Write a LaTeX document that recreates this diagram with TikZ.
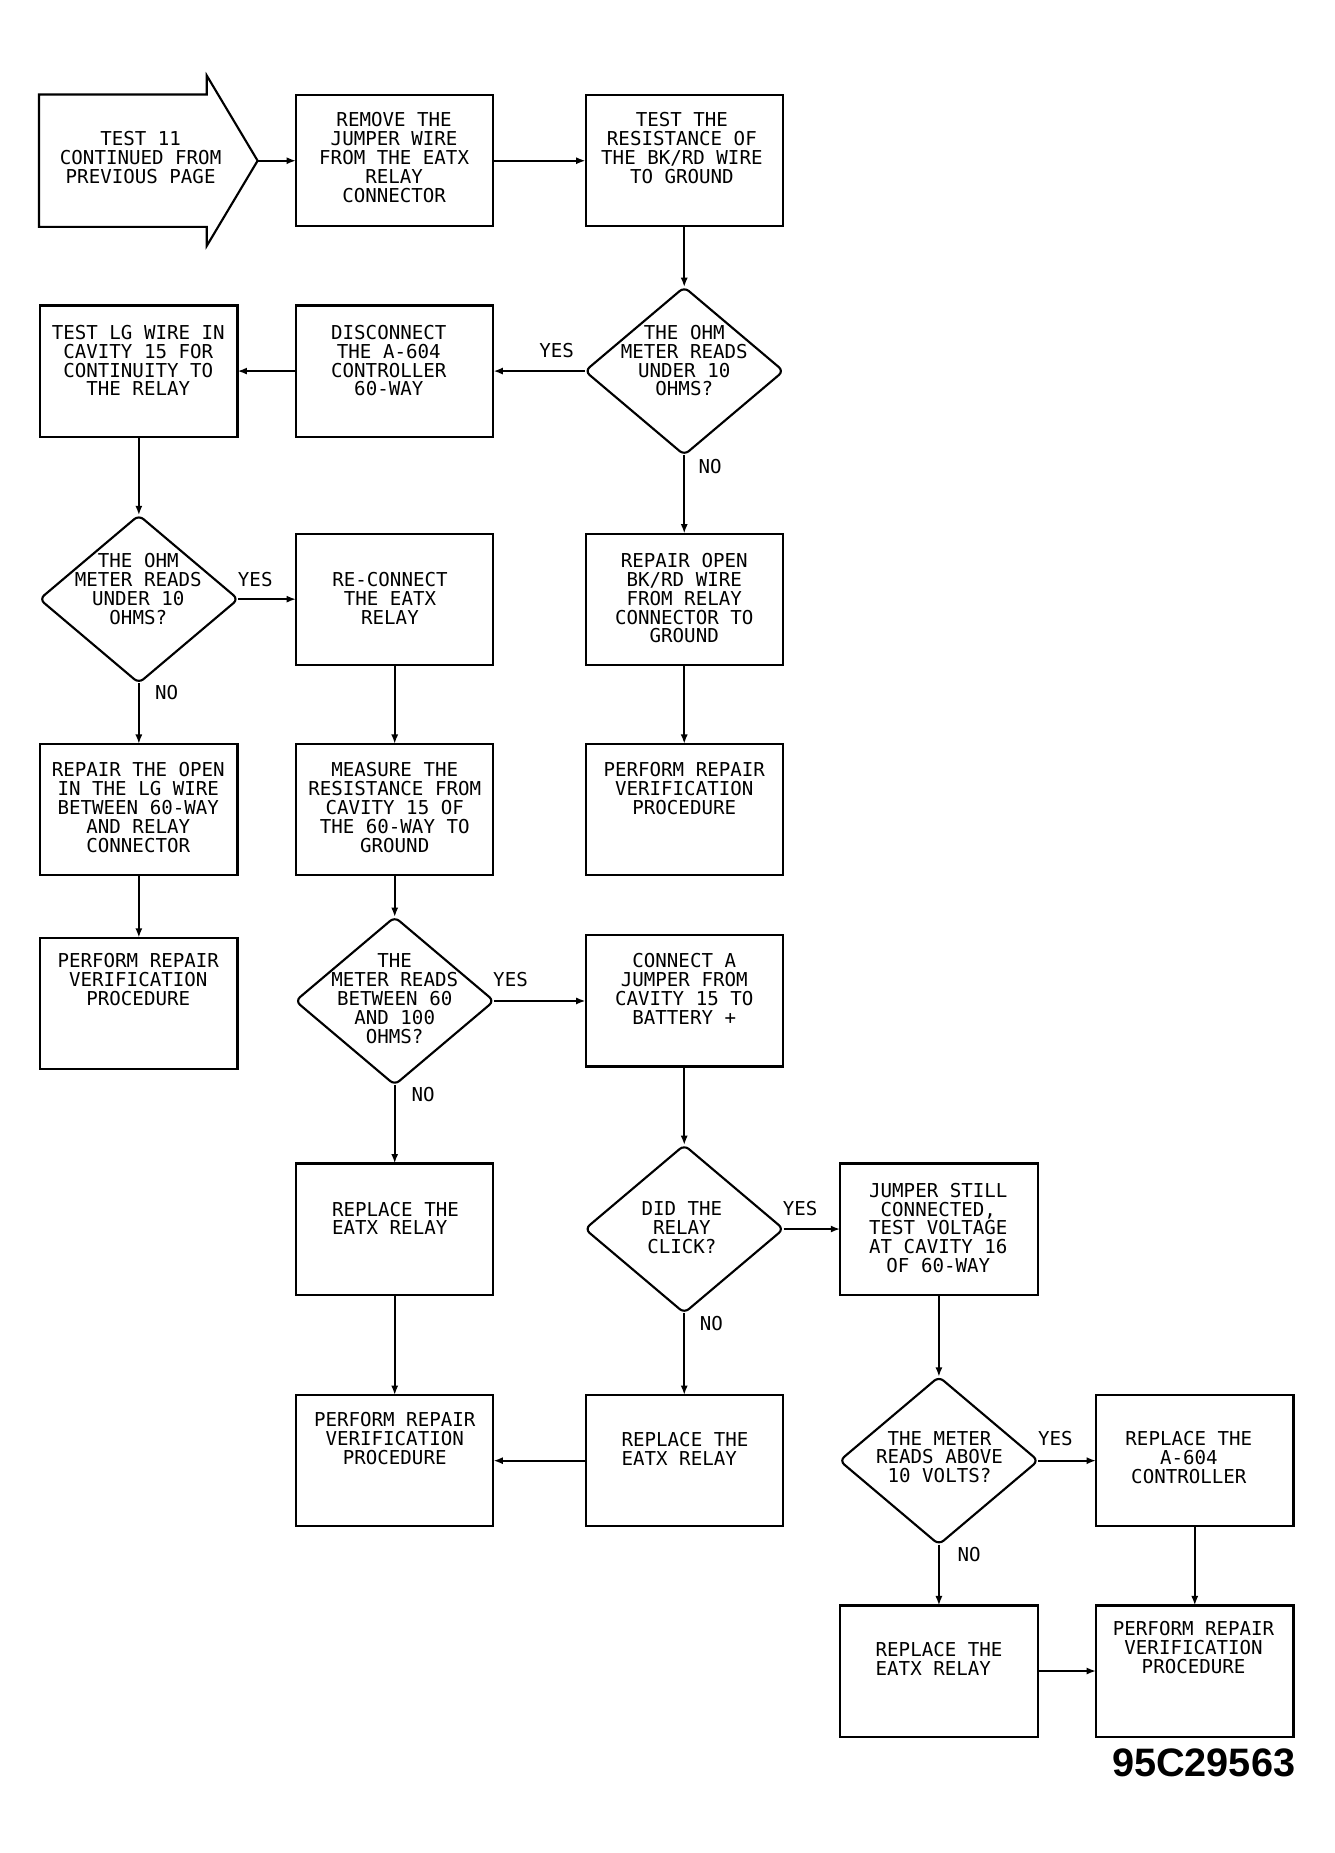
\documentclass[tikz,border=0pt]{standalone}
\usepackage{fontspec}
\setmainfont{DejaVu Sans Mono}
\newfontfamily\titlefont{Liberation Sans}
\usetikzlibrary{arrows.meta,shapes.geometric}
\begin{document}
\begin{tikzpicture}[x=0.5pt,y=-0.5pt,
  every node/.style={inner sep=0pt,outer sep=0pt},
  box/.style={draw,line width=0.9pt,minimum width=83.5pt,minimum height=55.5pt},
  dia/.style={draw,line width=0.9pt,shape=diamond,minimum width=84pt,minimum height=71pt,rounded corners=2.5pt},
  txt/.style={font=\fontsize{8.1}{8}\selectfont,align=center,anchor=north},
  ltxt/.style={font=\fontsize{8.1}{8}\selectfont,align=left,anchor=north west},
  lab/.style={font=\fontsize{8.1}{8}\selectfont},
  con/.style={line width=0.8pt,-{Latex[length=4pt,width=3pt]}}
]
\useasboundingbox (0,0) rectangle (1129,1568);
% start arrow
\draw[line width=0.9pt,line join=miter] (33,80) -- (175,80) -- (175,64) -- (218,136) -- (175,208) -- (175,192) -- (33,192) -- cycle;
\coordinate (tip) at (218,136);
\node[txt] (tstart) at (119,111) {TEST 11\\CONTINUED FROM\\PREVIOUS PAGE};
% boxes
\node[box] (remove) at (334,136) {};
\node[box] (testres) at (579,136) {};
\node[box] (disc) at (334,314) {};
\node[box] (testlg) at (117.5,314) {};
\node[box] (recon) at (334,507) {};
\node[box] (repbk) at (579,507) {};
\node[box] (replg) at (117.5,685) {};
\node[box] (measure) at (334,685) {};
\node[box] (perfr) at (579,685) {};
\node[box] (perfl) at (117.5,849) {};
\node[box] (connect) at (579,847) {};
\node[box] (replmid) at (334,1040) {};
\node[box] (jumper) at (794.5,1040) {};
\node[box] (perfmid) at (334,1236) {};
\node[box] (replbm) at (579,1236) {};
\node[box] (repla) at (1011,1236) {};
\node[box] (replb) at (794.5,1414) {};
\node[box] (perfb) at (1011,1414) {};
% diamonds
\node[dia] (d1) at (579,314) {};
\node[dia] (d2) at (117.5,507) {};
\node[dia] (d3) at (334,847) {};
\node[dia] (d4) at (579,1040) {};
\node[dia] (d5) at (794.5,1236) {};
% texts
\node[txt] (t1) at (333.5,95) {REMOVE THE\\JUMPER WIRE\\FROM THE EATX\\RELAY\\CONNECTOR};
\node[txt] (t2) at (577,95) {TEST THE\\RESISTANCE OF\\THE BK/RD WIRE\\TO GROUND};
\node[txt] (t3) at (579,275) {THE OHM\\METER READS\\UNDER 10\\OHMS?};
\node[txt] (t4) at (329,275) {DISCONNECT\\THE A-604\\CONTROLLER\\60-WAY};
\node[txt] (t5) at (117,275) {TEST LG WIRE IN\\CAVITY 15 FOR\\CONTINUITY TO\\THE RELAY};
\node[txt] (t6) at (117,468) {THE OHM\\METER READS\\UNDER 10\\OHMS?};
\node[txt] (t7) at (330,484) {RE-CONNECT\\THE EATX\\RELAY};
\node[txt] (t8) at (579,468) {REPAIR OPEN\\BK/RD WIRE\\FROM RELAY\\CONNECTOR TO\\GROUND};
\node[txt] (t9) at (117,645) {REPAIR THE OPEN\\IN THE LG WIRE\\BETWEEN 60-WAY\\AND RELAY\\CONNECTOR};
\node[txt] (t10) at (334,645) {MEASURE THE\\RESISTANCE FROM\\CAVITY 15 OF\\THE 60-WAY TO\\GROUND};
\node[txt] (t11) at (579,645) {PERFORM REPAIR\\VERIFICATION\\PROCEDURE};
\node[txt] (t12) at (117,807) {PERFORM REPAIR\\VERIFICATION\\PROCEDURE};
\node[txt] (t13) at (334,807) {THE\\METER READS\\BETWEEN 60\\AND 100\\OHMS?};
\node[txt] (t14) at (579,807) {CONNECT A\\JUMPER FROM\\CAVITY 15 TO\\BATTERY +};
\node[ltxt] (t15) at (281,1017) {REPLACE THE\\EATX RELAY};
\node[txt] (t16) at (577,1017) {DID THE\\RELAY\\CLICK?};
\node[txt] (t17) at (794,1001) {JUMPER STILL\\CONNECTED,\\TEST VOLTAGE\\AT CAVITY 16\\OF 60-WAY};
\node[txt] (t18) at (334,1195) {PERFORM REPAIR\\VERIFICATION\\PROCEDURE};
\node[ltxt] (t19) at (526,1212) {REPLACE THE\\EATX RELAY};
\node[txt] (t20) at (795,1211) {THE METER\\READS ABOVE\\10 VOLTS?};
\node[txt] (t21) at (1006,1211) {REPLACE THE\\A-604\\CONTROLLER};
\node[ltxt] (t22) at (741,1390) {REPLACE THE\\EATX RELAY};
\node[txt] (t23) at (1010,1372) {PERFORM REPAIR\\VERIFICATION\\PROCEDURE};
% labels
\node[lab] (y1) at (471,297) {YES};
\node[lab] (n1) at (601,395) {NO};
\node[lab] (y2) at (216,490) {YES};
\node[lab] (n2) at (141,586) {NO};
\node[lab] (y3) at (432,829) {YES};
\node[lab] (n3) at (358,926) {NO};
\node[lab] (y4) at (677,1023) {YES};
\node[lab] (n4) at (602,1120) {NO};
\node[lab] (y5) at (893,1217) {YES};
\node[lab] (n5) at (820,1315) {NO};
\node[font=\titlefont\bfseries\fontsize{16.8}{18}\selectfont] (fig) at (1018.5,1492) {95C29563};
% connectors
\draw[con] (tip) -- (remove.west);
\draw[con] (remove.east) -- (testres.west);
\draw[con] (testres.south) -- (d1.north);
\draw[con] (d1.west) -- (disc.east);
\draw[con] (disc.west) -- (testlg.east);
\draw[con] (testlg.south) -- (d2.north);
\draw[con] (d2.east) -- (recon.west);
\draw[con] (d2.south) -- (replg.north);
\draw[con] (d1.south) -- (repbk.north);
\draw[con] (repbk.south) -- (perfr.north);
\draw[con] (recon.south) -- (measure.north);
\draw[con] (replg.south) -- (perfl.north);
\draw[con] (measure.south) -- (d3.north);
\draw[con] (d3.east) -- (connect.west);
\draw[con] (d3.south) -- (replmid.north);
\draw[con] (replmid.south) -- (perfmid.north);
\draw[con] (connect.south) -- (d4.north);
\draw[con] (d4.east) -- (jumper.west);
\draw[con] (d4.south) -- (replbm.north);
\draw[con] (replbm.west) -- (perfmid.east);
\draw[con] (jumper.south) -- (d5.north);
\draw[con] (d5.east) -- (repla.west);
\draw[con] (d5.south) -- (replb.north);
\draw[con] (repla.south) -- (perfb.north);
\draw[con] (replb.east) -- (perfb.west);
\end{tikzpicture}
\end{document}
